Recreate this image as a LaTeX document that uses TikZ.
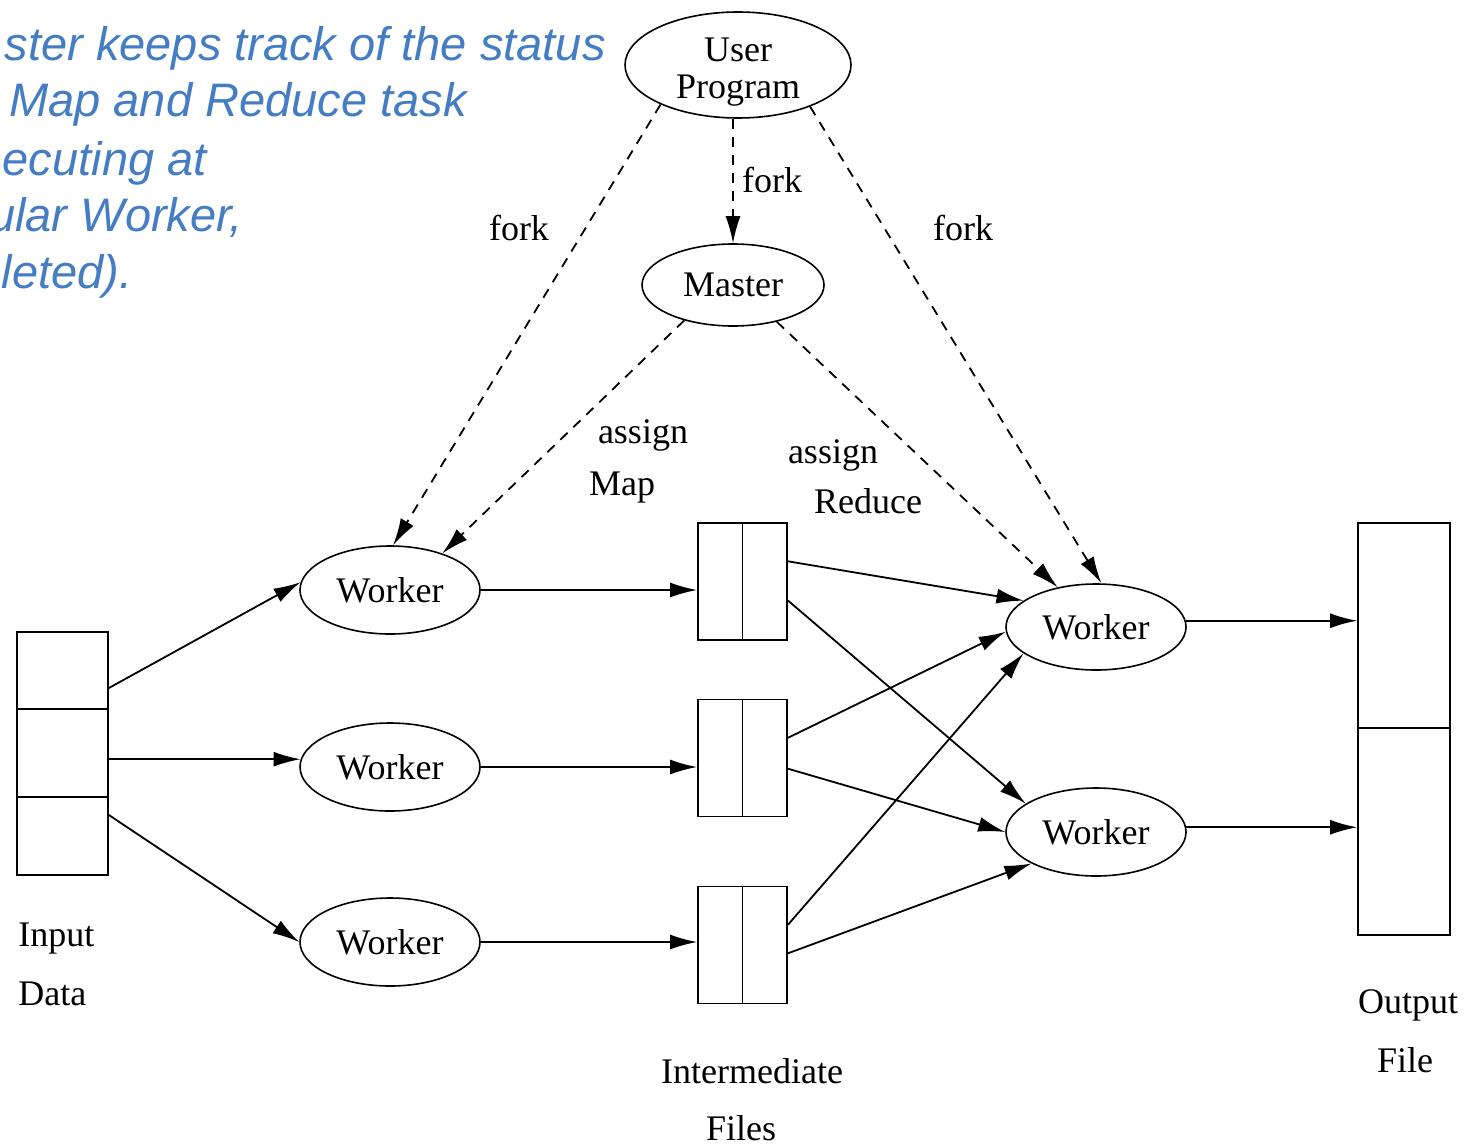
\documentclass[tikz,border=0pt]{standalone}
\usepackage{fontspec}
\setmainfont{Liberation Serif}
\newfontfamily\notefont{Liberation Sans}
\usetikzlibrary{shapes.geometric,arrows.meta,calc}
\definecolor{noteblue}{RGB}{68,125,196}

\begin{document}
\begin{tikzpicture}[x=0.5pt,y=-0.5pt,
  every node/.style={font=\fontsize{18}{18}\selectfont},
  proc/.style={ellipse,draw,line width=0.8pt,inner sep=0pt,minimum width=90pt,minimum height=44pt},
  cell/.style={rectangle,draw,line width=0.9pt,inner sep=0pt,minimum width=45.5pt},
  flow/.style={line width=0.9pt,-{Latex[length=13.5pt,width=7.5pt]}},
  ctrl/.style={flow,dash pattern=on 5pt off 4pt},
  lbl/.style={anchor=base,inner sep=0pt},
  lblw/.style={anchor=base west,inner sep=0pt},
  note/.style={anchor=base east,inner sep=0pt,text=noteblue,
    font=\notefont\itshape\fontsize{23.5}{28}\selectfont}
]
\useasboundingbox (0,0) rectangle (1470,1145);
\fill[white] (0,0) rectangle (1470,1145);

% note on the master's bookkeeping
\node[note] (n1) at (606,61)  {ster keeps track of the status};
\node[note] (n2) at (467,117) {Map and Reduce task};
\node[note] (n3) at (207,175) {ecuting at};
\node[note] (n4) at (243,231) {ular Worker,};
\node[note] (n5) at (133,288) {leted).};

% processes
\node[proc,minimum width=113pt,minimum height=53pt,align=center,text height=33pt,text depth=0pt] (up) at (738,65) {User\\Program};
\node[proc,minimum width=91pt,minimum height=41pt] (ms) at (733,285) {Master};
\node[proc] (w1) at (390,590) {Worker};
\node[proc] (w2) at (390,767) {Worker};
\node[proc] (w3) at (390,942) {Worker};
\node[proc,minimum height=43pt] (r1) at (1096,627) {Worker};
\node[proc] (r2) at (1096,832) {Worker};

% input splits
\node[cell,minimum height=38.5pt] (in1) at (62.5,670.5) {};
\node[cell,minimum height=44pt]   (in2) at (62.5,753) {};
\node[cell,minimum height=39pt]   (in3) at (62.5,836) {};

% intermediate files (two partitions each)
\node[cell,minimum width=44.5pt,minimum height=58.5pt] (f1) at (742.5,581.5) {};
\node[cell,minimum width=44.5pt,minimum height=58.5pt] (f2) at (742.5,758) {};
\node[cell,minimum width=44.5pt,minimum height=58.5pt] (f3) at (742.5,945) {};
\foreach \f in {f1,f2,f3} \draw[line width=0.9pt] (\f.north) -- (\f.south);

% output files
\node[cell,minimum width=46pt,minimum height=102.5pt] (o1) at (1404,625.5) {};
\node[cell,minimum width=46pt,minimum height=103.5pt] (o2) at (1404,831.5) {};

% fork / assign
\draw[ctrl] (ms.north |- up.south) -- (ms.north);
\draw[ctrl] (up.207) -- (w1.86);
\draw[ctrl] (up.330) -- (r1.83);
\draw[ctrl] (ms.216) -- (w1.35);
\draw[ctrl] (ms.320) -- (r1.134);

% map phase
\draw[flow] ([yshift=-8.75pt]in1.east) -- (w1.175);
\draw[flow] (in2.east |- w2.175) -- (w2.175);
\draw[flow] ([yshift=10.5pt]in3.east) -- (w3.west);
\draw[flow] (w1.east) -- (w1.east -| f1.west);
\draw[flow] (w2.east) -- (w2.east -| f2.west);
\draw[flow] (w3.east) -- (w3.east -| f3.west);

% reduce phase
\draw[flow] ($(f1.north east)!0.33!(f1.south east)$) -- (r1.160);
\draw[flow] ($(f1.north east)!0.66!(f1.south east)$) -- (r2.158);
\draw[flow] ($(f2.north east)!0.33!(f2.south east)$) -- (r1.183);
\draw[flow] ($(f2.north east)!0.59!(f2.south east)$) -- (r2.west);
\draw[flow] ($(f3.north east)!0.33!(f3.south east)$) -- (r1.200);
\draw[flow] ($(f3.north east)!0.57!(f3.south east)$) -- (r2.206);
\draw[flow] (r1.4) -- (r1.4 -| o1.west);
\draw[flow] (r2.3) -- (r2.3 -| o2.west);

% labels
\node[lbl] (kf1) at (519,240) {fork};
\node[lbl] (kf2) at (772,192) {fork};
\node[lbl] (kf3) at (963,240) {fork};
\node[lbl] (ka1) at (643,443) {assign};
\node[lbl] (km)  at (622,495) {Map};
\node[lbl] (ka2) at (833,463) {assign};
\node[lbl] (kr)  at (868,513) {Reduce};
\node[lblw] (ki1) at (18,946)  {Input};
\node[lblw] (ki2) at (18,1005) {Data};
\node[lbl] (kt1) at (752,1083) {Intermediate};
\node[lbl] (kt2) at (741,1140) {Files};
\node[lbl] (ko1) at (1408,1013) {Output};
\node[lbl] (ko2) at (1405,1072) {File};
\end{tikzpicture}
\end{document}
